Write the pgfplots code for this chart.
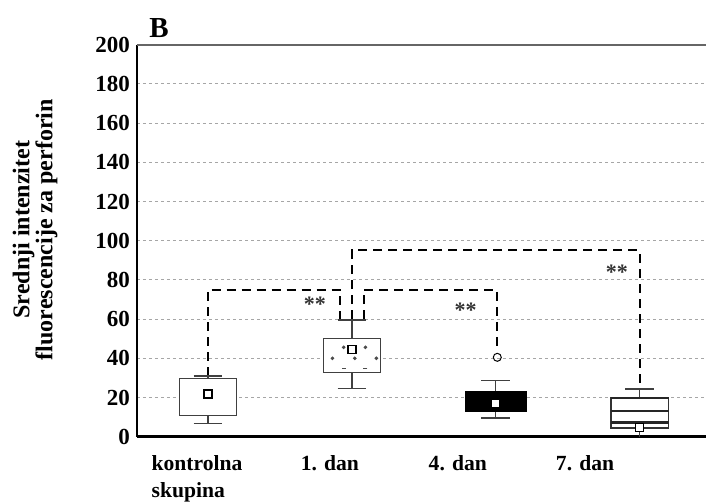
\documentclass[border=0pt]{standalone}
\usepackage{fontspec}
\setmainfont{Liberation Serif}
\usepackage{pgfplots}
\pgfplotsset{compat=1.18}
\begin{document}
\begin{tikzpicture}
\begin{axis}[
  scale only axis, width=284.5pt, height=196pt,
  xmin=-0.493, xmax=3.46, ymin=0, ymax=200,
  clip=false,
  axis x line*=bottom, axis y line*=left,
  x axis line style={line width=1.5pt},
  y axis line style={line width=1pt},
  ytick={0,20,...,200},
  ymajorgrids,
  grid style={black!35, dash pattern=on 1.5pt off 1.5pt, line width=0.4pt},
  xtick={-0.076,0.847,1.736,2.62},
  xticklabels={kontrolna\\skupina, 1. dan, 4. dan, 7. dan},
  xticklabel style={align=left, font=\fontsize{10.8}{13.5}\selectfont\bfseries, anchor=north, yshift=-6pt},
  yticklabel style={font=\fontsize{11.5}{13}\selectfont\bfseries},
  /pgf/number format/assume math mode=true,
  major tick length=0pt,
  ylabel={Srednji intenzitet\\fluorescencije za perforin},
  ylabel style={align=center, font=\fontsize{12}{11.5}\selectfont\bfseries, at={(axis description cs:-0.179,0.528)}, anchor=center},
  wh/.style={black!75, line width=0.6pt, solid},
  sig/.style={black, line width=1pt, dash pattern=on 4.5pt off 3pt},
]
% significance brackets
\addplot[sig] coordinates {(0,31) (0,75) (0.92,75) (0.92,60)};
\addplot[sig] coordinates {(1.083,60) (1.083,75) (2.01,75) (2.01,43.5)};
\addplot[sig] coordinates {(1,60) (1,95) (3,95) (3,24.3)};
% --- kontrolna skupina: whiskers 6.8 / 31, box 10.7-29.5
\addplot[wh] coordinates {(0,6.8) (0,31)};
\addplot[wh] coordinates {(-0.1,31) (0.1,31)};
\addplot[wh] coordinates {(-0.1,6.8) (0.1,6.8)};
\addplot[wh, fill=white] coordinates {(-0.2,10.7) (0.2,10.7) (0.2,29.5) (-0.2,29.5)} -- cycle;
% --- 1. dan: whiskers 24.6 / 59.5, box 32.8-50.3
\addplot[wh] coordinates {(1,24.6) (1,59.5)};
\addplot[wh] coordinates {(0.9,59.5) (1.1,59.5)};
\addplot[wh] coordinates {(0.9,24.6) (1.1,24.6)};
\addplot[wh, fill=white] coordinates {(0.8,32.8) (1.2,32.8) (1.2,50.3) (0.8,50.3)} -- cycle;
% --- 4. dan: whiskers 9.5 / 28.5, box 13-22.8
\addplot[wh] coordinates {(2,9.5) (2,28.5)};
\addplot[wh] coordinates {(1.9,28.5) (2.1,28.5)};
\addplot[wh] coordinates {(1.9,9.5) (2.1,9.5)};
\addplot[black, line width=0.6pt, fill=black] coordinates {(1.79,13) (2.21,13) (2.21,22.8) (1.79,22.8)} -- cycle;
% --- 7. dan: whiskers 0 / 24.3, box 4.4-19.7
\addplot[wh] coordinates {(3,0) (3,24.3)};
\addplot[wh] coordinates {(2.9,24.3) (3.1,24.3)};
\addplot[black, line width=1.5pt] coordinates {(2.9,0) (3.1,0)};
\addplot[black!80, line width=0.7pt, fill=white] coordinates {(2.8,4.4) (3.2,4.4) (3.2,19.7) (2.8,19.7)} -- cycle;
\addplot[wh] coordinates {(3,0) (3,4.4)};
% stripes in 7. dan box
\addplot[black!85, line width=1.3pt] coordinates {(2.8,13.2) (3.2,13.2)};
\addplot[black!85, line width=1.3pt] coordinates {(2.8,7.1) (3.2,7.1)};
\addplot[black!85, line width=1pt] coordinates {(2.8,19.5) (3.2,19.5)};
% dots in 1. dan box
\addplot[only marks, mark=*, mark size=0.7pt, black!70] coordinates {(0.943,45.6) (1.094,45.6) (0.865,40) (1.02,40) (1.17,40)};
\addplot[only marks, mark=-, mark size=1pt, black!70, mark options={line width=0.6pt}] coordinates {(0.943,34.9) (1.094,34.9)};
% outlier
\addplot[only marks, mark=o, mark size=2pt, black, mark options={fill=white, line width=0.5pt}] coordinates {(2.01,40.5)};
% means
\addplot[only marks, mark=square*, mark size=2pt, mark options={fill=white, draw=black, line width=0.6pt}] coordinates {(0,21.8) (1,44.4) (2,17) (3,4.6)};
% stars
\node[font=\fontsize{11}{11}\selectfont\bfseries, black!80] at (axis cs:0.743,67.5) {**};
\node[font=\fontsize{11}{11}\selectfont\bfseries, black!80] at (axis cs:1.79,64.5) {**};
\node[font=\fontsize{11}{11}\selectfont\bfseries, black!80] at (axis cs:2.84,84) {**};
% top line
\draw[black!60, line width=1pt] (rel axis cs:0,1) -- (rel axis cs:1,1);
\node[font=\fontsize{14.5}{14.5}\selectfont\bfseries] at (rel axis cs:0.0387,1.043) {B};
\end{axis}
\pgfresetboundingbox
\path[use as bounding box] ([shift={(-68.5pt,-32.5pt)}]current axis.south west) rectangle ([shift={(0pt,22.35pt)}]current axis.north east);
\end{tikzpicture}
\end{document}
